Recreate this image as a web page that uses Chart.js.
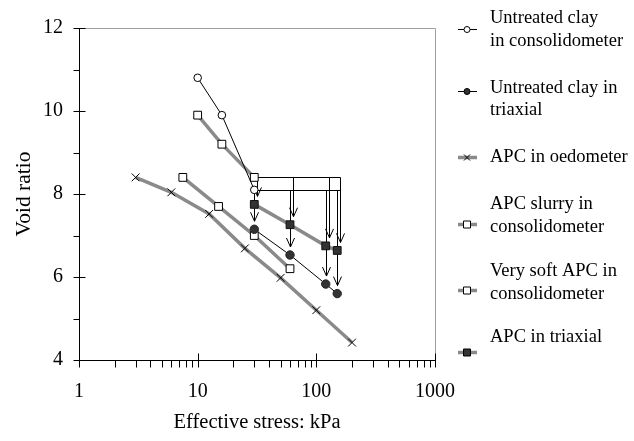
<!DOCTYPE html>
<html>
<head>
<meta charset="utf-8">
<style>
  html, body { margin: 0; padding: 0; background: #fff; }
  canvas { display: block; }
</style>
<script src="https://cdn.jsdelivr.net/npm/chart.js@4/dist/chart.umd.min.js"></script>
</head>
<body>
<canvas id="c" width="634" height="441"></canvas>
<script>
// ---- data ----
const untreatedConsolX = [10, 16, 30];
const untreatedConsolY = [10.8, 9.9, 8.1];
const untreatedTriaxX = [30, 60, 120, 150];
const untreatedTriaxY = [7.15, 6.53, 5.83, 5.6];
const apcOedX = [3, 6, 12.5, 25, 50, 100, 200];
const apcOedY = [8.4, 8.04, 7.52, 6.69, 5.98, 5.2, 4.42];
const apcSlurryX = [10, 16, 30];
const apcSlurryY = [9.9, 9.2, 8.4];
const verySoftX = [7.5, 15, 30, 60];
const verySoftY = [8.4, 7.7, 7.0, 6.2];
const apcTriaxX = [30, 60, 120, 150];
const apcTriaxY = [7.75, 7.26, 6.75, 6.64];
const apcArrowStart = 8.4;        // void ratio where APC triaxial arrows start
const untreatedArrowStart = 8.1;  // void ratio where untreated triaxial arrows start

const xTickValues = [1, 10, 100, 1000];
const xMinorTicks = [2,3,4,5,6,7,8,9,20,30,40,50,60,70,80,90,200,300,400,500,600,700,800,900];
const yTickValues = [4, 6, 8, 10, 12];
const yMinorTicks = [5, 7, 9, 11];

const legendLabels = [
  ['Untreated clay', 'in consolidometer'],
  ['Untreated clay in', 'triaxial'],
  ['APC in oedometer'],
  ['APC slurry in', 'consolidometer'],
  ['Very soft APC in', 'consolidometer'],
  ['APC in triaxial']
];

const pts = (xs, ys) => xs.map((x, i) => ({x, y: ys[i]}));

const GRAY = '#8a8a8a';
const DARK = '#333333';
const SERIF = '"Liberation Serif", "Times New Roman", serif';

const datasets = [
  { label: legendLabels[0].join(' '), data: pts(untreatedConsolX, untreatedConsolY),
    borderColor: '#000', borderWidth: 1, pointStyle: 'circle', pointRadius: 3.8,
    pointBackgroundColor: '#fff', pointBorderColor: '#000', pointBorderWidth: 1 },
  { label: legendLabels[1].join(' '), data: pts(untreatedTriaxX, untreatedTriaxY),
    borderColor: '#000', borderWidth: 1, pointStyle: 'circle', pointRadius: 4.2,
    pointBackgroundColor: DARK, pointBorderColor: '#222', pointBorderWidth: 1 },
  { label: legendLabels[2].join(' '), data: pts(apcOedX, apcOedY),
    borderColor: GRAY, borderWidth: 3.5, pointStyle: 'crossRot', pointRadius: 5.5,
    pointBackgroundColor: '#000', pointBorderColor: '#000', pointBorderWidth: 1 },
  { label: legendLabels[3].join(' '), data: pts(apcSlurryX, apcSlurryY),
    borderColor: GRAY, borderWidth: 3.5, pointStyle: 'rect', pointRadius: 5.5,
    pointBackgroundColor: '#fff', pointBorderColor: '#000', pointBorderWidth: 1 },
  { label: legendLabels[4].join(' '), data: pts(verySoftX, verySoftY),
    borderColor: GRAY, borderWidth: 3.5, pointStyle: 'rect', pointRadius: 5.5,
    pointBackgroundColor: '#fff', pointBorderColor: '#000', pointBorderWidth: 1 },
  { label: legendLabels[5].join(' '), data: pts(apcTriaxX, apcTriaxY),
    borderColor: GRAY, borderWidth: 3.5, pointStyle: 'rect', pointRadius: 5.5,
    pointBackgroundColor: DARK, pointBorderColor: '#111', pointBorderWidth: 1 }
];
datasets.forEach(d => { d.fill = false; d.tension = 0; d.showLine = true; d.pointHoverRadius = d.pointRadius; });

function line(ctx, x1, y1, x2, y2) {
  ctx.beginPath(); ctx.moveTo(x1, y1); ctx.lineTo(x2, y2); ctx.stroke();
}
function arrow(ctx, x, y1, y2) {
  ctx.beginPath(); ctx.moveTo(x, y1); ctx.lineTo(x, y2); ctx.stroke();
  ctx.beginPath(); ctx.moveTo(x - 4, y2 - 9); ctx.lineTo(x, y2); ctx.lineTo(x + 4, y2 - 9); ctx.stroke();
}

const axesPlugin = {
  id: 'axesPlugin',
  beforeDatasetsDraw(chart) {
    const {ctx, chartArea: a, scales: {x, y}} = chart;
    ctx.save();
    ctx.strokeStyle = '#000';
    ctx.lineWidth = 1;
    const yTop = Math.round(y.getPixelForValue(apcArrowStart)) + 0.5;
    const yBot = Math.round(y.getPixelForValue(untreatedArrowStart)) + 0.5;
    const xStart = x.getPixelForValue(apcTriaxX[0]);
    const xEnd = Math.round(x.getPixelForValue(apcTriaxX[apcTriaxX.length - 1])) + 3.5;
    line(ctx, xStart, yTop, xEnd, yTop);
    line(ctx, xStart, yBot, xEnd, yBot);
    apcTriaxX.forEach((v, i) => {
      const px = Math.round(x.getPixelForValue(v)) + 3.5;
      arrow(ctx, px, yTop, y.getPixelForValue(apcTriaxY[i]) - 8);
    });
    untreatedTriaxX.forEach((v, i) => {
      const px = Math.round(x.getPixelForValue(v)) + 0.5;
      arrow(ctx, px, yBot, y.getPixelForValue(untreatedTriaxY[i]) - 8);
    });
    ctx.restore();
  },
  afterDraw(chart) {
    const {ctx, chartArea: a, scales: {x, y}} = chart;
    ctx.save();
    const L = Math.round(a.left) + 0.5, R = Math.round(a.right) + 0.5;
    const T = Math.round(a.top) + 0.5, B = Math.round(a.bottom) + 0.5;
    ctx.lineWidth = 1;
    ctx.strokeStyle = '#a0a0a0';
    line(ctx, L, T, R, T);
    line(ctx, R, T, R, B);
    ctx.strokeStyle = '#000';
    line(ctx, L, T, L, B);
    line(ctx, L, B, R, B);
    yTickValues.forEach(v => { const p = Math.round(y.getPixelForValue(v)) + 0.5; line(ctx, L - 6, p, L + 6, p); });
    yMinorTicks.forEach(v => { const p = Math.round(y.getPixelForValue(v)) + 0.5; line(ctx, L - 6, p, L, p); });
    xTickValues.forEach(v => { const p = Math.round(x.getPixelForValue(v)) + 0.5; line(ctx, p, B - 7, p, B + 7); });
    xMinorTicks.forEach(v => { const p = Math.round(x.getPixelForValue(v)) + 0.5; line(ctx, p, B, p, B + 7); });

    // legend
    const symX = 467, textX = 490;
    const textYs = [[18, 41], [88, 110], [157], [204, 227], [271, 294], [337]];
    const symYs = [29, 91, 157, 224, 290, 352];
    ctx.font = '18.5px ' + SERIF;
    ctx.fillStyle = '#000';
    ctx.textAlign = 'left';
    ctx.textBaseline = 'middle';
    legendLabels.forEach((lines, i) => {
      lines.forEach((t, j) => ctx.fillText(t, textX, textYs[i][j]));
      const d = datasets[i];
      const sy = symYs[i] + 0.5;
      ctx.strokeStyle = d.borderColor;
      ctx.lineWidth = d.borderWidth;
      line(ctx, symX - 9, sy, symX + 10, sy);
      ctx.lineWidth = 1;
      ctx.strokeStyle = '#000';
      ctx.fillStyle = d.pointBackgroundColor;
      if (d.pointStyle === 'circle') {
        ctx.beginPath(); ctx.arc(symX, sy, 3, 0, Math.PI * 2); ctx.fill(); ctx.stroke();
      } else if (d.pointStyle === 'rect') {
        ctx.beginPath(); ctx.rect(symX - 3.5, sy - 3.5, 7, 7); ctx.fill(); ctx.stroke();
      } else {
        line(ctx, symX - 3, sy - 3, symX + 3, sy + 3);
        line(ctx, symX - 3, sy + 3, symX + 3, sy - 3);
      }
      ctx.fillStyle = '#000';
    });
    ctx.restore();
  }
};

new Chart(document.getElementById('c'), {
  type: 'line',
  data: { datasets },
  options: {
    responsive: false,
    animation: false,
    devicePixelRatio: 1,
    layout: { padding: { top: 14, right: 199, left: 0, bottom: 0 } },
    plugins: { legend: { display: false }, tooltip: { enabled: false } },
    scales: {
      x: {
        type: 'logarithmic', min: 1, max: 1000,
        afterBuildTicks: s => { s.ticks = xTickValues.map(v => ({ value: v, major: true })); },
        afterFit: s => { s.height = 81; },
        grid: { display: false, drawTicks: false },
        border: { display: false },
        ticks: { autoSkip: false, maxRotation: 0, padding: 20, color: '#000',
                 font: { family: SERIF, size: 20 }, callback: v => String(v) },
        title: { display: true, text: 'Effective stress: kPa', color: '#000',
                 font: { family: SERIF, size: 20.5 }, padding: { top: 0, bottom: 6 } }
      },
      y: {
        type: 'linear', min: 4, max: 12,
        afterBuildTicks: s => { s.ticks = yTickValues.map(v => ({ value: v })); },
        afterFit: s => { s.width = 79; },
        grid: { display: false, drawTicks: false },
        border: { display: false },
        ticks: { padding: 16, color: '#000', font: { family: SERIF, size: 20 } },
        title: { display: true, text: 'Void ratio', color: '#000',
                 font: { family: SERIF, size: 21.5 }, padding: { top: 11, bottom: 0 } }
      }
    }
  },
  plugins: [axesPlugin]
});
</script>
</body>
</html>
